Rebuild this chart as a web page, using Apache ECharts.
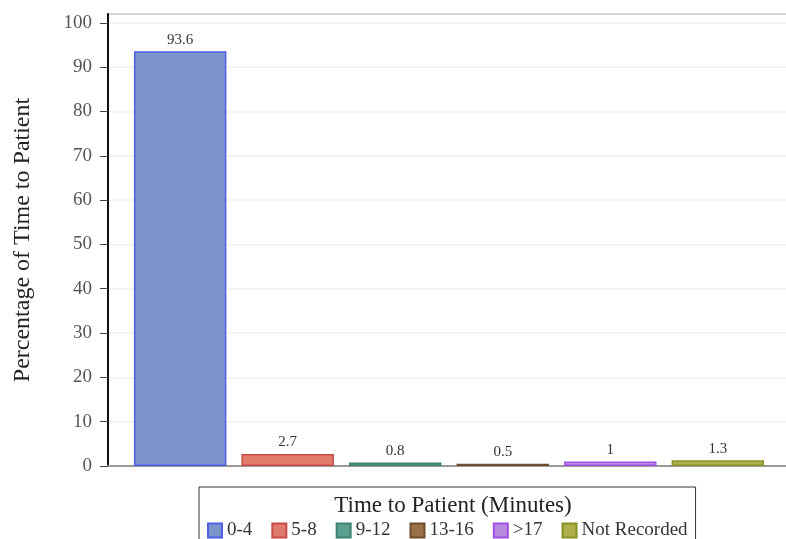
<!DOCTYPE html>
<html>
<head>
<meta charset="utf-8">
<script src="https://cdn.jsdelivr.net/npm/echarts@6/dist/echarts.min.js"></script>
<style>
html,body{margin:0;padding:0;background:#fff;}
#chart{width:786px;height:539px;}
</style>
</head>
<body>
<div id="chart"></div>
<script>
const categories = ['0-4', '5-8', '9-12', '13-16', '>17', 'Not Recorded'];
const values = [93.6, 2.7, 0.8, 0.5, 1, 1.3];
const fillColors = ['#7b94cc', '#e07b6b', '#5a9e90', '#9a7048', '#b98ae0', '#adb04a'];
const borderColors = ['#4f5ee8', '#c84a48', '#3d8272', '#6e4e2c', '#a04fe6', '#8a9222'];
const yTicks = [0, 10, 20, 30, 40, 50, 60, 70, 80, 90, 100];

const FONT = '"Liberation Serif", "DejaVu Serif", serif';
const chart = echarts.init(document.getElementById('chart'), null, {renderer: 'canvas'});

const series = categories.map((name, i) => ({
  name: name,
  type: 'bar',
  data: [values[i]],
  barGap: '16.3%',
  barCategoryGap: '7.6%',
  itemStyle: {color: fillColors[i], borderColor: borderColors[i], borderWidth: 1.5},
  label: {
    show: true, position: 'top', distance: 4,
    fontFamily: FONT, fontSize: 15, color: '#333',
    formatter: p => String(p.value)
  }
}));

chart.setOption({
  animation: false,
  backgroundColor: '#fff',
  title: {
    text: 'Time to Patient (Minutes)',
    left: 448, top: 489, textAlign: 'center',
    textStyle: {fontFamily: FONT, fontSize: 23, fontWeight: 'normal', color: '#222'}
  },
  legend: {
    left: 199, top: 487,
    padding: [34, 8, 20, 8],
    borderColor: '#333', borderWidth: 1,
    icon: 'rect',
    itemWidth: 14, itemHeight: 14, itemGap: 19,
    textStyle: {fontFamily: FONT, fontSize: 19, color: '#333'},
    data: categories
  },
  grid: {
    left: 108, top: 14, width: 682, bottom: 73,
    outerBoundsMode: 'none',
    show: true, borderColor: '#888', borderWidth: 2
  },
  xAxis: {
    type: 'category',
    data: [''],
    axisLine: {lineStyle: {color: '#999', width: 2}},
    axisTick: {show: false},
    axisLabel: {show: false}
  },
  yAxis: {
    type: 'value',
    min: yTicks[0], max: 102, interval: 10,
    name: 'Percentage of Time to Patient',
    nameLocation: 'middle', nameGap: 73,
    nameTextStyle: {fontFamily: FONT, fontSize: 24, color: '#222'},
    axisLine: {show: true, lineStyle: {color: '#111', width: 2}},
    axisTick: {show: true, length: 8, lineStyle: {color: '#444'}},
    axisLabel: {
      fontFamily: FONT, fontSize: 19, color: '#555', margin: 16,
      showMaxLabel: false,
      formatter: v => (yTicks.indexOf(v) >= 0 ? String(v) : '')
    },
    splitLine: {show: true, lineStyle: {color: '#f0f0f0', width: 1.5}}
  },
  series: series
});
</script>
</body>
</html>
